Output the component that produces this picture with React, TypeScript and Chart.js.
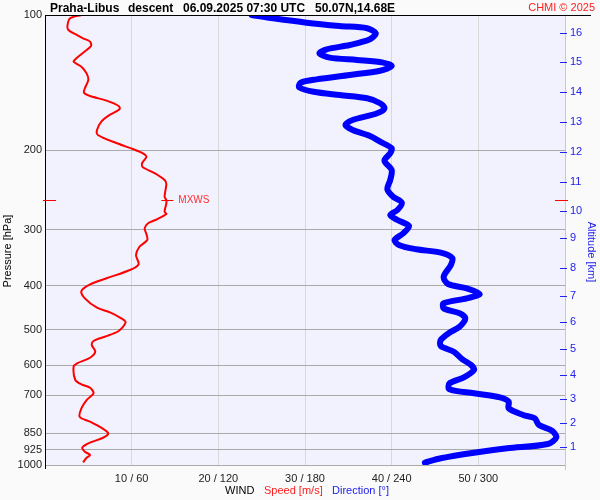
import React, { useEffect, useRef } from "react";
import { Chart, registerables } from "chart.js";

Chart.register(...registerables);

// ---- Data ----
const pressureTicks = [100, 200, 300, 400, 500, 600, 700, 850, 925, 1000];
const speedTicks = [10, 20, 30, 40, 50];
const altitudeKm = [1, 2, 3, 4, 5, 6, 7, 8, 9, 10, 11, 12, 13, 14, 15, 16];
const altitudePressure = [910.8, 806.6, 713.5, 630.1, 551.4, 481.2, 420.6, 365.5, 313.5, 272.2, 234.7, 201.6, 172.9, 148.5, 127.2, 109.5];

const speedPressure = [
  100, 101.7, 105.3, 108.0, 110.8, 112.7, 114.6, 117.2, 121.3, 125.4,
  127.0, 130.3, 134.8, 139.4, 145.5, 148.8, 151.4, 155.0, 159.3, 162.0,
  167.6, 172.6, 180.1, 184.8, 192.8, 198.8, 202.9, 206.5, 213.6, 218.0,
  224.8, 232.6, 237.4, 253.4, 257.7, 262.1, 273.6, 276.8, 284.4, 290.3,
  297.9, 306.7, 316.2, 327.3, 341.5, 358.1, 368.7, 384.7, 396.7, 410.6,
  426.3, 447.2, 457.9, 472.1, 481.9, 503.8, 518.7, 530.2, 541.2, 560.1,
  577.6, 594.3, 604.7, 647.3, 661.8, 673.3, 692.9, 717.1, 748.2, 781.1,
  801.4, 826.3, 850.5, 869.8, 895.1, 915.5, 934.3, 950.2, 963.4, 986.3,
];
const speedValues = [
  4.2, 2.9, 2.6, 2.7, 3.7, 4.4, 5.2, 5.3, 4.4, 3.5,
  3.3, 4.2, 4.8, 5.0, 4.6, 4.5, 5.2, 7.1, 8.5, 8.6,
  7.3, 6.5, 6.0, 6.1, 8.3, 10.2, 11.3, 11.7, 11.2, 11.3,
  12.7, 13.8, 14.0, 13.8, 14.0, 14.0, 13.8, 14.0, 12.9, 11.9,
  11.5, 11.7, 11.8, 10.9, 10.5, 10.8, 9.8, 7.1, 5.2, 4.2,
  4.6, 6.0, 7.5, 8.8, 9.3, 8.5, 6.9, 5.6, 5.4, 5.8,
  5.2, 3.7, 3.3, 3.5, 4.2, 5.2, 5.6, 4.8, 4.2, 4.0,
  5.2, 6.5, 7.3, 6.7, 5.0, 4.3, 4.6, 5.2, 4.8, 4.4,
];

const dirPressure = [
  100, 101.7, 104.0, 105.8, 107.0, 109.8, 113.2, 116.6, 119.2, 121.6,
  124.4, 125.9, 127.6, 129.8, 133.0, 135.9, 139.0, 141.4, 144.8, 148.1,
  150.6, 153.1, 157.1, 161.2, 165.3, 171.1, 175.5, 180.1, 185.7, 191.2,
  197.8, 202.9, 210.7, 221.0, 232.6, 243.9, 253.4, 261.3, 271.3, 278.3,
  285.5, 294.4, 305.6, 316.2, 324.4, 331.6, 337.4, 347.2, 359.4, 381.6,
  396.1, 404.9, 416.9, 426.3, 437.3, 448.6, 460.2, 472.1, 492.9, 508.2,
  527.5, 544.1, 560.1, 582.3, 599.5, 615.1, 638.5, 658.4, 678.9, 692.9,
  707.3, 723.3, 748.2, 774.3, 787.5, 815.0, 839.2, 867.9, 898.2, 918.3,
  939.3, 966.3, 988.3,
];
const dirValues = [
  143, 158, 181, 204, 223, 229, 225, 211, 195, 190,
  197, 216, 234, 240, 232, 211, 188, 177, 176, 186,
  204, 223, 232, 235, 230, 213, 208, 213, 225, 232,
  240, 239, 235, 240, 239, 237, 241, 247, 244, 239,
  244, 252, 248, 242, 245, 257, 274, 282, 281, 276,
  279, 292, 301, 292, 276, 276, 287, 291, 287, 280,
  274, 274, 283, 289, 295, 297, 290, 280, 280, 297,
  315, 321, 321, 331, 339, 342, 351, 354, 348, 320,
  297, 274, 263,
];

const mxwsPressure = 258;
const mxwsSpeed = 14.0;

const FONT = "'Liberation Sans', Arial, Helvetica, sans-serif";

const overlay = {
  id: "overlay",
  beforeDraw(chart: any) {
    const { ctx, chartArea: a } = chart;
    ctx.save();
    ctx.fillStyle = "#f2f2ff";
    ctx.fillRect(a.left, a.top, a.right - a.left, a.bottom - a.top);
    ctx.restore();
  },
  afterDraw(chart: any) {
    const { ctx, chartArea: a, scales } = chart;
    ctx.save();
    // frame lines
    ctx.lineWidth = 1;
    ctx.strokeStyle = "#c8c8c8";
    ctx.beginPath();
    ctx.moveTo(Math.round(a.right) + 0.5, a.top);
    ctx.lineTo(Math.round(a.right) + 0.5, a.bottom + 5);
    ctx.stroke();
    ctx.strokeStyle = "#000";
    ctx.beginPath();
    ctx.moveTo(Math.round(a.left) + 0.5, a.top);
    ctx.lineTo(Math.round(a.left) + 0.5, a.bottom + 4);
    ctx.stroke();
    ctx.beginPath();
    ctx.moveTo(a.left, Math.round(a.top) + 0.5);
    ctx.lineTo(591, Math.round(a.top) + 0.5);
    ctx.stroke();

    // altitude tick marks
    const y2 = scales.y2;
    ctx.strokeStyle = "#2222ee";
    altitudePressure.forEach((p) => {
      const py = Math.round(y2.getPixelForValue(p)) + 0.5;
      ctx.beginPath();
      ctx.moveTo(a.right - 5, py);
      ctx.lineTo(a.right + 2, py);
      ctx.stroke();
    });

    // MXWS marker
    const my = Math.round(scales.y.getPixelForValue(mxwsPressure)) + 0.5;
    const mx = scales.x.getPixelForValue(mxwsSpeed);
    ctx.strokeStyle = "#ff0000";
    ctx.beginPath();
    ctx.moveTo(mx - 5, my); ctx.lineTo(mx + 7, my);
    ctx.moveTo(a.left - 2, my); ctx.lineTo(a.left + 11, my);
    ctx.moveTo(a.right - 10, my); ctx.lineTo(a.right + 3, my);
    ctx.stroke();
    ctx.fillStyle = "#ff3030";
    ctx.font = `10px ${FONT}`;
    ctx.textBaseline = "middle";
    ctx.textAlign = "left";
    ctx.fillText("MXWS", mx + 12, my);

    // top title
    ctx.fillStyle = "#000";
    ctx.font = `bold 12px ${FONT}`;
    ctx.textBaseline = "alphabetic";
    ctx.fillText("Praha-Libus", 50, 12);
    ctx.fillText("descent", 128, 12);
    ctx.fillText("06.09.2025 07:30 UTC", 183, 12);
    ctx.fillText("50.07N,14.68E", 315, 12);
    ctx.fillStyle = "#ff2020";
    ctx.font = `11px ${FONT}`;
    ctx.textAlign = "right";
    ctx.fillText("CHMI \u00a9 2025", 595, 11);

    // axis titles
    ctx.textAlign = "center";
    ctx.textBaseline = "middle";
    ctx.fillStyle = "#000";
    ctx.save();
    ctx.translate(8, 251);
    ctx.rotate(-Math.PI / 2);
    ctx.fillText("Pressure [hPa]", 0, 0);
    ctx.restore();
    ctx.fillStyle = "#2020ee";
    ctx.save();
    ctx.translate(591, 252);
    ctx.rotate(Math.PI / 2);
    ctx.fillText("Altitude [km]", 0, 0);
    ctx.restore();

    // bottom legend
    ctx.textAlign = "left";
    ctx.fillStyle = "#000";
    ctx.fillText("WIND", 225, 491);
    ctx.fillStyle = "#ff2020";
    ctx.fillText("Speed [m/s]", 264, 491);
    ctx.fillStyle = "#2020ee";
    ctx.fillText("Direction [\u00b0]", 332, 491);
    ctx.restore();
  },
};

export default function App() {
  const ref = useRef<HTMLCanvasElement>(null);
  useEffect(() => {
    document.body.style.margin = "0";
    const chart = new Chart(ref.current as HTMLCanvasElement, {
      type: "scatter",
      data: {
        datasets: [
          {
            label: "Direction",
            data: dirPressure.map((p, i) => ({ x: dirValues[i], y: p })),
            xAxisID: "xDir",
            yAxisID: "y",
            borderColor: "#0000ff",
            backgroundColor: "#0000ff",
            borderWidth: 6,
            showLine: true,
            pointRadius: 0,
            tension: 0.3,
            borderCapStyle: "round",
            borderJoinStyle: "round",
          } as any,
          {
            label: "Speed",
            data: speedPressure.map((p, i) => ({ x: speedValues[i], y: p })),
            xAxisID: "x",
            yAxisID: "y",
            borderColor: "#ff0000",
            backgroundColor: "#ff0000",
            borderWidth: 2,
            showLine: true,
            pointRadius: 0,
            tension: 0.3,
          } as any,
        ],
      },
      options: {
        animation: false,
        responsive: false,
        layout: { padding: { top: 15, left: 0, right: 0, bottom: 0 } },
        plugins: { legend: { display: false }, tooltip: { enabled: false }, title: { display: false } },
        scales: {
          x: {
            type: "linear",
            position: "bottom",
            min: 0,
            max: 60,
            afterBuildTicks: (s: any) => { s.ticks = speedTicks.map((v) => ({ value: v })); },
            afterFit: (s: any) => { s.height = 35; },
            grid: { color: "#d8d8d8", drawTicks: false },
            border: { display: false },
            ticks: {
              padding: 7,
              color: "#222",
              maxRotation: 0,
              autoSkip: false,
              font: { family: FONT, size: 11 },
              callback: (v: any) => `${v} / ${Number(v) * 6}`,
            },
          },
          xDir: { type: "linear", min: 0, max: 360, display: false },
          y: {
            type: "logarithmic",
            position: "left",
            reverse: true,
            min: 100,
            max: 1000,
            afterBuildTicks: (s: any) => { s.ticks = pressureTicks.map((v) => ({ value: v })); },
            afterFit: (s: any) => { s.width = 45; },
            grid: { color: "#aaaaaa", drawTicks: false },
            border: { display: false },
            ticks: {
              padding: 3,
              color: "#222",
              autoSkip: false,
              font: { family: FONT, size: 11 },
              callback: (v: any) => String(v),
            },
          },
          y2: {
            type: "logarithmic",
            position: "right",
            reverse: true,
            min: 100,
            max: 1000,
            afterBuildTicks: (s: any) => { s.ticks = altitudePressure.map((v) => ({ value: v })); },
            afterFit: (s: any) => { s.width = 35; },
            grid: { display: false, drawTicks: false },
            border: { display: false },
            ticks: {
              padding: 5,
              color: "#2222ee",
              autoSkip: false,
              font: { family: FONT, size: 11 },
              callback: (v: any) => {
                const i = altitudePressure.indexOf(Number(v));
                return i >= 0 ? String(altitudeKm[i]) : "";
              },
            },
          },
        },
      } as any,
      plugins: [overlay],
    });
    return () => chart.destroy();
  }, []);
  return (
    <canvas
      ref={ref}
      width={600}
      height={500}
      style={{ display: "block", width: 600, height: 500, background: "#fafafa" }}
    />
  );
}
